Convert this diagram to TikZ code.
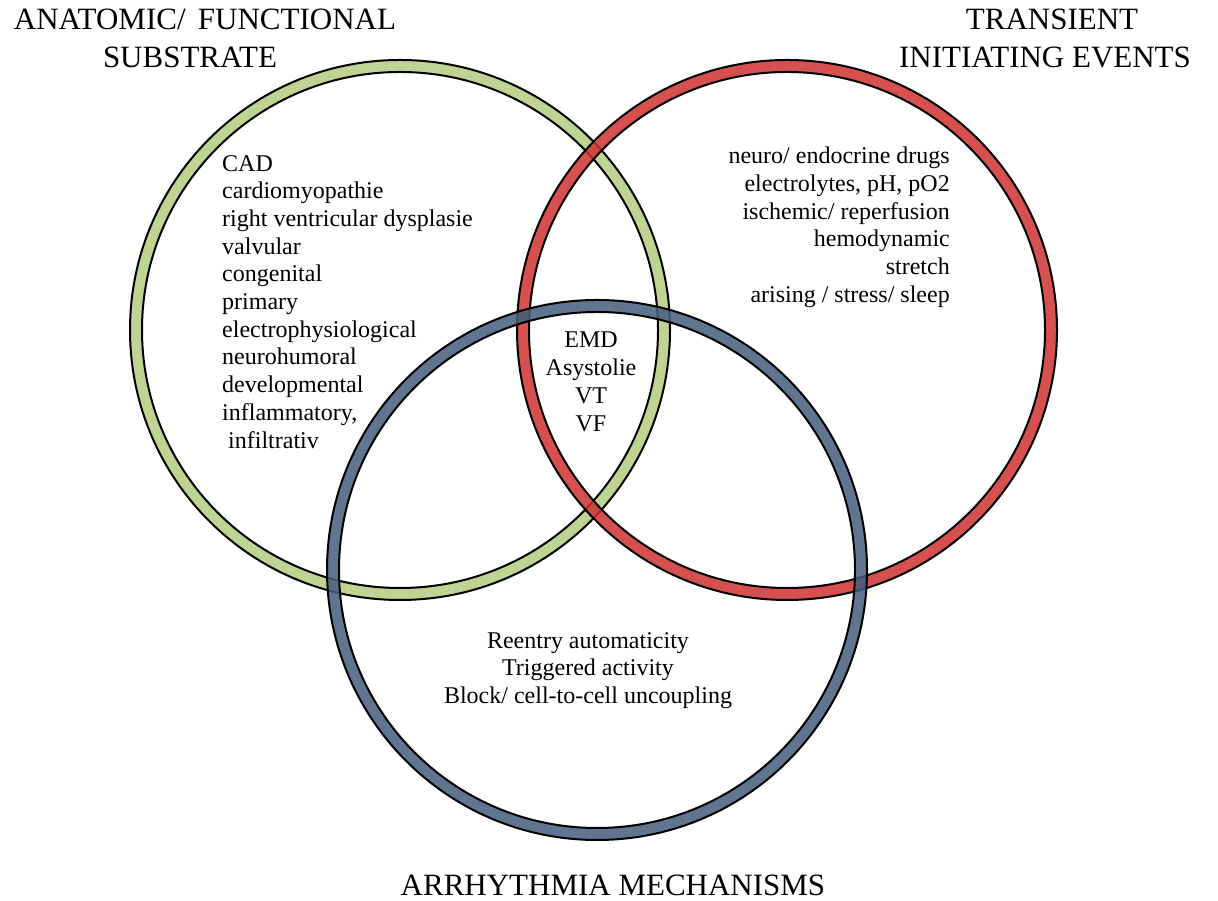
\documentclass[tikz,border=0pt]{standalone}
\usepackage{fontspec}
\setmainfont{Liberation Serif}
\definecolor{ringgreen}{RGB}{180,205,127}
\definecolor{ringred}{RGB}{207,49,49}
\definecolor{ringblue}{RGB}{67,93,125}
\usetikzlibrary{positioning}

\begin{document}
\begin{tikzpicture}[x=1pt, y=1pt,
      ring/.style={fill opacity=0.85, even odd rule},
      edge/.style={draw=black, line width=2pt},
      title/.style={inner sep=0pt, align=center, font=\fontsize{31}{38}\selectfont},
      list/.style={inner sep=0pt, font=\fontsize{24}{27.7}\selectfont}]
    \useasboundingbox (0,0) rectangle (1218,901);
    \coordinate (subst) at (400,571);
    \coordinate (trans) at (787,571);
    \coordinate (mech) at (597,331);
    % the three rings
    \foreach \c/\col in {subst/ringgreen, trans/ringred, mech/ringblue} {
      \fill[ring, fill=\col] (\c) circle[radius=270] circle[radius=258];
      \draw[edge] (\c) circle[radius=270];
      \draw[edge] (\c) circle[radius=258];
    }
    % titles
    \node[title, anchor=north] (substtitle) at (205,892) {ANATOMIC/\hspace{0.4em}FUNCTIONAL\\ SUBSTRATE\hspace*{30pt}};
    \node[title, anchor=north] (transtitle) at (1045,892) {\hspace*{14pt}TRANSIENT\\ INITIATING EVENTS};
    \node[title, anchor=north] (mechtitle) at (613,26) {ARRHYTHMIA MECHANISMS};
    % contents
    \node[list, align=left, anchor=north west] (substlist) at (222,746)
      {CAD\\ cardiomyopathie\\ right ventricular dysplasie\\ valvular\\ congenital\\
       primary\\ electrophysiological\\ neurohumoral\\ developmental\\ inflammatory,\\
       \ infiltrativ};
    \node[list, align=right, anchor=north east] (translist) at (950,754)
      {neuro/ endocrine drugs\\ electrolytes, pH, pO2\\ ischemic/ reperfusion\\
       hemodynamic\\ stretch\\ arising / stress/ sleep};
    \node[list, align=center, anchor=north] (core) at (591,569)
      {EMD\\ Asystolie\\ VT\\ VF};
    \node[list, align=center, anchor=north] (mechlist) at (588,269)
      {Reentry automaticity\\ Triggered activity\\ Block/ cell-to-cell uncoupling};
\end{tikzpicture}
\end{document}
